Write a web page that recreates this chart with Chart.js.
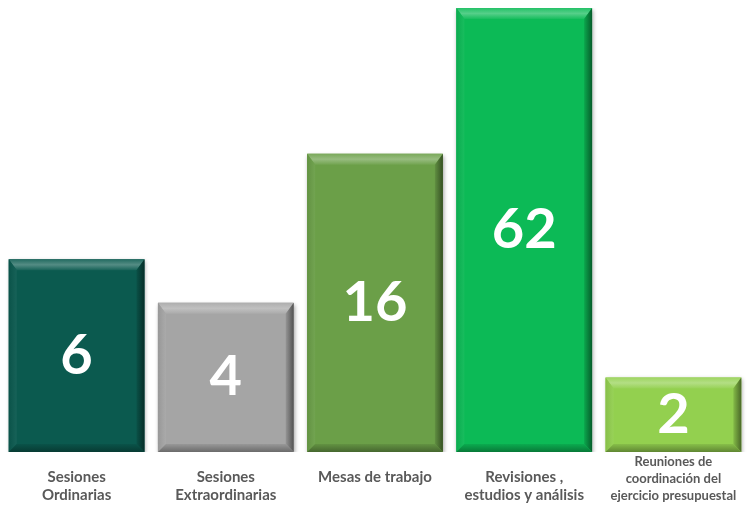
<!DOCTYPE html>
<html><head><meta charset="utf-8">
<script src="https://cdn.jsdelivr.net/npm/chart.js@4/dist/chart.umd.min.js"></script>
<style>html,body{margin:0;padding:0;background:#fff;}canvas{display:block;}</style>
</head><body>
<canvas id="c" width="748" height="516"></canvas>
<script>
const categories = [
  ["Sesiones", "Ordinarias"],
  ["Sesiones", "Extraordinarias"],
  ["Mesas de trabajo"],
  ["Revisiones ,", "estudios y análisis"],
  ["Reuniones de", "coordinación del", "ejercicio presupuestal"]
];
const values = [6, 4, 16, 62, 2];
const barColors = ["#0b5a4f", "#a5a5a5", "#6b9f48", "#0cba56", "#93d04f"];

function shade(hex, amt) {
  const n = parseInt(hex.slice(1), 16);
  let r = (n >> 16) & 255, g = (n >> 8) & 255, b = n & 255;
  const f = v => amt >= 0 ? Math.round(v + (255 - v) * amt) : Math.round(v * (1 + amt));
  return `rgb(${f(r)},${f(g)},${f(b)})`;
}

const bevelPlugin = {
  id: 'bevel',
  afterDatasetsDraw(chart) {
    const ctx = chart.ctx;
    const meta = chart.getDatasetMeta(0);
    meta.data.forEach((bar, i) => {
      const c = barColors[i];
      const w = bar.width;
      const L = bar.x - w / 2, R = bar.x + w / 2, T = bar.y, B = bar.base;
      const t = 11, s = 8;
      ctx.save();
      let g = ctx.createLinearGradient(0, T, 0, T + t);
      g.addColorStop(0, shade(c, 0.1));
      g.addColorStop(0.5, shade(c, 0.3));
      g.addColorStop(1, shade(c, 0.05));
      ctx.fillStyle = g;
      ctx.beginPath(); ctx.moveTo(L, T); ctx.lineTo(R, T); ctx.lineTo(R - s, T + t); ctx.lineTo(L + s, T + t); ctx.closePath(); ctx.fill();
      g = ctx.createLinearGradient(L, 0, L + s, 0);
      g.addColorStop(0, shade(c, -0.08));
      g.addColorStop(1, shade(c, 0.05));
      ctx.fillStyle = g;
      ctx.beginPath(); ctx.moveTo(L, T); ctx.lineTo(L + s, T + t); ctx.lineTo(L + s, B - s); ctx.lineTo(L, B); ctx.closePath(); ctx.fill();
      g = ctx.createLinearGradient(R - s, 0, R, 0);
      g.addColorStop(0, shade(c, -0.1));
      g.addColorStop(1, shade(c, -0.5));
      ctx.fillStyle = g;
      ctx.beginPath(); ctx.moveTo(R, T); ctx.lineTo(R, B); ctx.lineTo(R - s, B - s); ctx.lineTo(R - s, T + t); ctx.closePath(); ctx.fill();
      g = ctx.createLinearGradient(0, B - s, 0, B);
      g.addColorStop(0, shade(c, -0.08));
      g.addColorStop(1, shade(c, -0.35));
      ctx.fillStyle = g;
      ctx.beginPath(); ctx.moveTo(L, B); ctx.lineTo(R, B); ctx.lineTo(R - s, B - s); ctx.lineTo(L + s, B - s); ctx.closePath(); ctx.fill();
      ctx.fillStyle = '#ffffff';
      ctx.font = 'bold 56px Lato, "Open Sans", sans-serif';
      ctx.textAlign = 'center';
      ctx.textBaseline = 'middle';
      ctx.fillText(String(values[i]), bar.x, (T + B) / 2);
      ctx.restore();
    });
  }
};

const shadowPlugin = {
  id: 'barShadow',
  beforeDatasetsDraw(chart) {
    const ctx = chart.ctx;
    ctx.save();
    ctx.shadowColor = 'rgba(0,0,0,0.35)';
    ctx.shadowBlur = 4;
    ctx.shadowOffsetX = 1;
    ctx.shadowOffsetY = 2;
  },
  afterDatasetsDraw(chart) { chart.ctx.restore(); }
};

new Chart(document.getElementById('c'), {
  type: 'bar',
  data: {
    labels: categories,
    datasets: [{
      data: values,
      backgroundColor: barColors,
      borderWidth: 0,
      barPercentage: 0.91,
      categoryPercentage: 1.0
    }]
  },
  options: {
    responsive: false,
    animation: false,
    devicePixelRatio: 1,
    layout: { padding: { top: 8, left: 2, right: -7, bottom: -7 } },
    plugins: { legend: { display: false }, tooltip: { enabled: false } },
    scales: {
      y: { type: 'logarithmic', min: 1, max: 62, display: false },
      x: {
        grid: { display: false, drawTicks: false },
        border: { display: false },
        ticks: {
          color: '#595959',
          padding: 10,
          maxRotation: 0,
          autoSkip: false,
          crossAlign: 'far',
          callback: (v, i) => categories[i].length === 1 ? [...categories[i], ''] : categories[i],
          font: ctx => ctx.index === 4
            ? { family: 'Lato, "Open Sans", sans-serif', weight: 'bold', size: 13, lineHeight: '17px' }
            : { family: 'Lato, "Open Sans", sans-serif', weight: 'bold', size: 15, lineHeight: '18px' }
        }
      }
    }
  },
  plugins: [shadowPlugin, bevelPlugin]
});
</script>
</body></html>
